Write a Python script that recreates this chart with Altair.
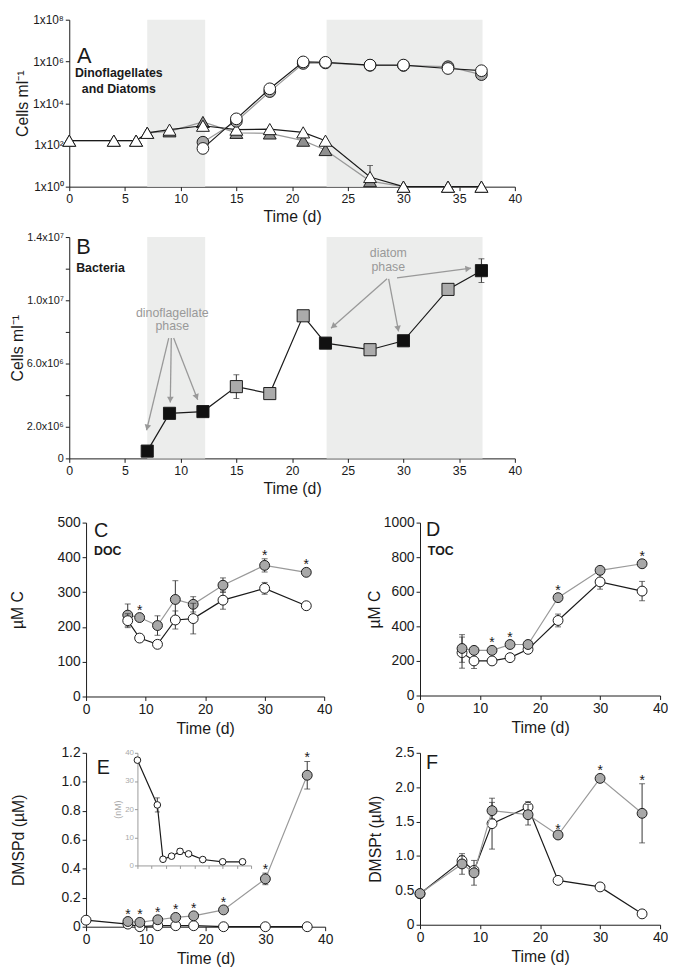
import math
import altair as alt
import pandas as pd

FONT = "Liberation Sans"
NARROW = "Liberation Sans Narrow, Liberation Sans"
INK = "#1a1a1a"
GFILL = "#a8a8a8"
GLINE = "#999999"
SHADE = "#ecedec"
ERRC = "#333333"

# ---------------- data ----------------
shade_start = [7.0, 23.1]
shade_end = [12.2, 37.1]

# Panel A (cells ml-1, log)
a_tri_days = [0, 4, 6, 7, 9, 12, 15, 18, 21, 23, 27, 30, 34, 37]
a_tri_white = [160, 160, 160, 380, 540, 830, 540, 575, 400, 160, 2.9, 1, 1, 1]
a_tri_gray = [160, 160, 160, 380, 450, 1260, 380, 355, 160, 57, 1.85, 1, 1, 1]
a_circ_days = [12, 15, 18, 21, 23, 27, 30, 34, 37]
a_circ_white = [68, 1780, 49000, 950000, 910000, 670000, 670000, 460000, 360000]
a_circ_gray = [135, 1350, 36000, 800000, 850000, 650000, 640000, 560000, 234000]
a_err_day = [27]
a_err_lo = [2.9]
a_err_hi = [10.3]
a_ytick_vals = [1, 100, 10000, 1000000, 100000000]
a_ytick_text = ["1x10⁰", "1x10²", "1x10⁴", "1x10⁶", "1x10⁸"]
x_ticks_ab = [0, 5, 10, 15, 20, 25, 30, 35, 40]

# Panel B (bacteria)
b_days = [7, 9, 12, 15, 18, 21, 23, 27, 30, 34, 37]
b_vals = [0.46e6, 2.85e6, 2.96e6, 4.54e6, 4.1e6, 9.02e6, 7.29e6, 6.875e6, 7.44e6, 10.69e6, 11.875e6]
b_err = [0, 0, 0, 0.75e6, 0, 0, 0, 0.2e6, 0, 0, 0.75e6]
b_kind = ["k", "k", "k", "g", "g", "g", "k", "g", "k", "g", "k"]
b_ytick_vals = [0, 2e6, 4e6, 6e6, 8e6, 1e7, 1.2e7, 1.4e7]
b_ytick_text = ["0", "2.0x10⁶", "", "6.0x10⁶", "", "1.0x10⁷", "", "1.4x10⁷"]
b_arrow_x1 = [8.93, 9.16, 9.37, 28.53, 28.67, 29.42]
b_arrow_y1 = [7.61e6, 7.61e6, 7.61e6, 11.36e6, 11.36e6, 11.42e6]
b_arrow_x2 = [6.94, 9.07, 11.53, 23.5, 29.56, 36.07]
b_arrow_y2 = [1.78e6, 3.54e6, 3.71e6, 8.23e6, 8.03e6, 12.03e6]
b_note_text = ["dinoflagellate", "phase", "diatom", "phase"]
b_note_x = [9.25, 9.25, 28.64, 28.64]
b_note_y = [9.17e6, 8.34e6, 13.02e6, 12.09e6]

# Panel C (DOC)
c_days = [7, 9, 12, 15, 18, 23, 30, 37]
c_gray = [234, 227, 204, 279, 265, 320, 377, 357]
c_gray_err = [32, 0, 28, 54, 22, 21, 19, 0]
c_white = [218, 168, 150, 220, 224, 277, 311, 261]
c_white_err = [20, 0, 0, 26, 44, 26, 17, 0]
c_stars = [9, 30, 37]
c_yticks = [0, 100, 200, 300, 400, 500]

# Panel D (TOC)
d_days = [7, 9, 12, 15, 18, 23, 30, 37]
d_gray = [272, 261, 261, 295, 295, 566, 724, 762]
d_gray_err = [80, 0, 0, 0, 0, 0, 0, 0]
d_white = [248, 200, 200, 219, 267, 434, 657, 604]
d_white_err = [90, 44, 0, 0, 0, 37, 42, 56]
d_stars = [12, 15, 23, 37]
d_yticks = [0, 200, 400, 600, 800, 1000]

# Panel E (DMSPd)
e_gray_days = [7, 9, 12, 15, 18, 23, 30, 37]
e_gray = [0.036, 0.03, 0.048, 0.064, 0.075, 0.116, 0.33, 1.045]
e_gray_err = [0, 0, 0, 0, 0, 0, 0.04, 0.095]
e_white_days = [0, 7, 9, 12, 15, 18, 23, 30, 37]
e_white = [0.045, 0.018, 0.0, 0.007, 0.007, 0.007, 0.0, 0.0, 0.0]
e_white_err = [0, 0, 0, 0, 0, 0, 0, 0, 0]
e_stars = [7, 9, 12, 15, 18, 23, 30, 37]
e_yticks = [0, 0.2, 0.4, 0.6, 0.8, 1.0, 1.2]
# inset (nM)
e_in_days = [0, 7, 9, 12, 15, 18, 23, 30, 37]
e_in_vals = [37.4, 21.5, 2.2, 3.3, 5.0, 4.1, 2.1, 1.3, 1.3]
e_in_err = [0, 2.5, 0, 0, 1.0, 0, 0, 0, 0]
e_in_yticks = [0, 10, 20, 30, 40]

# Panel F (DMSPt)
f_days = [0, 7, 9, 12, 18, 23, 30, 37]
f_gray = [0.454, 0.884, 0.755, 1.659, 1.60, 1.305, 2.128, 1.62]
f_gray_err = [0, 0.15, 0.18, 0.12, 0.15, 0.03, 0, 0.43]
f_white = [0.45, 0.932, 0.79, 1.47, 1.71, 0.645, 0.55, 0.158]
f_white_err = [0, 0.07, 0, 0.37, 0.08, 0, 0, 0]
f_stars = [23, 30, 37]
f_yticks = [0, 0.5, 1.0, 1.5, 2.0, 2.5]

x_ticks_cf = [0, 10, 20, 30, 40]


def label_expr(vals, texts):
    expr = "''"
    for v, t in reversed(list(zip(vals, texts))):
        expr = f"datum.value == {v} ? '{t}' : ({expr})"
    return expr


def frame(days, vals, err=None):
    d = pd.DataFrame({"day": days, "v": vals})
    e = err if err is not None else [0] * len(days)
    d["lo"] = [v - x for v, x in zip(vals, e)]
    d["hi"] = [v + x for v, x in zip(vals, e)]
    return d


def line_layer(df, X, Y, color, width=1.2):
    return alt.Chart(df).mark_line(color=color, strokeWidth=width).encode(x=X("day"), y=Y("v"))


def point_layer(df, X, Y, shape, fill, size, stroke=INK, sw=1.0):
    return alt.Chart(df).mark_point(shape=shape, filled=True, fill=fill, stroke=stroke,
                                    strokeWidth=sw, size=size, opacity=1).encode(x=X("day"), y=Y("v"))


def err_layers(df, X, Y, cap=6, color=ERRC):
    d = df[df["hi"] > df["lo"]]
    if len(d) == 0:
        return []
    rule = alt.Chart(d).mark_rule(color=color, strokeWidth=1).encode(x=X("day"), y=Y("lo"), y2=alt.Y2("hi"))
    c1 = alt.Chart(d).mark_tick(orient="horizontal", color=color, size=cap, thickness=1).encode(x=X("day"), y=Y("lo"))
    c2 = alt.Chart(d).mark_tick(orient="horizontal", color=color, size=cap, thickness=1).encode(x=X("day"), y=Y("hi"))
    return [rule, c1, c2]


def text_layer(df, X, Y, size, weight="normal", align="left", baseline="alphabetic", color=INK, font=FONT, dy=0):
    return alt.Chart(df).mark_text(fontSize=size, fontWeight=weight, align=align, baseline=baseline,
                                   color=color, fill=color, font=font, dy=dy).encode(
        x=X("day"), y=Y("v"), text="t:N")


def star_layers(days, vals, errs, star_days, X, Y):
    rows = [(d, v + e, e) for d, v, e in zip(days, vals, errs) if d in star_days]
    s1 = pd.DataFrame([{"day": d, "v": v, "t": "*"} for d, v, e in rows if e > 0])
    s0 = pd.DataFrame([{"day": d, "v": v, "t": "*"} for d, v, e in rows if e <= 0])
    out = []
    if len(s1):
        out.append(text_layer(s1, X, Y, 14, align="center", dy=1))
    if len(s0):
        out.append(text_layer(s0, X, Y, 14, align="center", dy=-3))
    return out


# ---------------- Panel A ----------------
W_AB = 451
H_A = 169
H_B = 224

xs_ab = alt.Scale(domain=[0, 40], nice=False)
xax_ab = alt.Axis(values=x_ticks_ab, title="Time (d)", titlePadding=4, labelFontSize=12.5)
XA = lambda f: alt.X(f, type="quantitative", scale=xs_ab, axis=xax_ab)
ys_a = alt.Scale(type="log", domain=[1, 1e8], nice=False)
yax_a = alt.Axis(values=a_ytick_vals, labelExpr=label_expr(a_ytick_vals, a_ytick_text),
                 title="Cells ml⁻¹", titlePadding=2, labelFontSize=12)
YA = lambda f: alt.Y(f, type="quantitative", scale=ys_a, axis=yax_a)

shade_df = pd.DataFrame({"day": shade_start, "day2": shade_end})


def shade_layer(X, H):
    return alt.Chart(shade_df).mark_rect(color=SHADE).encode(
        x=X("day"), x2=alt.X2("day2"), y=alt.value(0), y2=alt.value(H))


a_layers = [shade_layer(XA, H_A)]
tg = frame(a_tri_days, a_tri_gray)
tw = frame(a_tri_days, a_tri_white)
cg = frame(a_circ_days, a_circ_gray)
cw = frame(a_circ_days, a_circ_white)
a_err = pd.DataFrame({"day": a_err_day, "lo": a_err_lo, "hi": a_err_hi})
a_layers += err_layers(a_err, XA, YA)
a_layers += [line_layer(tg, XA, YA, GLINE), point_layer(tg, XA, YA, "triangle-up", "#8f8f8f", 170)]
a_layers += [line_layer(tw, XA, YA, INK), point_layer(tw, XA, YA, "triangle-up", "white", 170)]
a_layers += [line_layer(cg, XA, YA, GLINE), point_layer(cg, XA, YA, "circle", GFILL, 140)]
a_layers += [line_layer(cw, XA, YA, INK), point_layer(cw, XA, YA, "circle", "white", 140)]
a_layers.append(text_layer(pd.DataFrame({"day": [0.7], "v": [10 ** 5.93], "t": ["A"]}), XA, YA, 22))
a_layers.append(text_layer(pd.DataFrame({"day": [4.45, 4.45], "v": [10 ** 5.26, 10 ** 4.47],
                                         "t": ["Dinoflagellates", "and Diatoms"]}),
                           XA, YA, 12.5, weight="bold", align="center"))
panel_a = alt.layer(*a_layers).properties(width=W_AB, height=H_A)

# ---------------- Panel B ----------------
ys_b = alt.Scale(domain=[0, 1.4e7], nice=False)
yax_b = alt.Axis(values=b_ytick_vals, labelExpr=label_expr(b_ytick_vals, b_ytick_text),
                 title="Cells ml⁻¹", titlePadding=1, labelFont=NARROW, labelFontSize=11)
YB = lambda f: alt.Y(f, type="quantitative", scale=ys_b, axis=yax_b)
bdf = frame(b_days, b_vals, b_err)
bdf["kind"] = b_kind
b_layers = [shade_layer(XA, H_B)]
b_layers += err_layers(bdf, XA, YB)
b_layers.append(line_layer(bdf, XA, YB, INK))
b_layers.append(alt.Chart(bdf).mark_point(shape="square", filled=True, stroke=INK, strokeWidth=1,
                                          size=150, opacity=1).encode(
    x=XA("day"), y=YB("v"),
    fill=alt.Fill("kind:N", scale=alt.Scale(domain=["k", "g"], range=["#111111", "#ababab"]), legend=None)))

# arrows
arr = pd.DataFrame({"day": b_arrow_x1, "v": b_arrow_y1, "x2": b_arrow_x2, "y2": b_arrow_y2})
px_per_day = W_AB / 40.0
px_per_val = H_B / 1.4e7
head_h = math.sqrt(45) / 2 * math.sqrt(3) / 2
hx, hy, ang = [], [], []
for x1, y1, x2, y2 in zip(b_arrow_x1, b_arrow_y1, b_arrow_x2, b_arrow_y2):
    dxp = (x2 - x1) * px_per_day
    dyp = -(y2 - y1) * px_per_val
    L = math.hypot(dxp, dyp)
    ux, uy = dxp / L, dyp / L
    a = math.degrees(math.atan2(dxp, -dyp)) % 360
    ang.append(a)
    hx.append(x2 - ux * head_h / px_per_day)
    hy.append(y2 + uy * head_h / px_per_val)
heads = pd.DataFrame({"day": hx, "v": hy, "ang": ang})
b_layers.append(alt.Chart(arr).mark_rule(color=GLINE, strokeWidth=1.3).encode(
    x=XA("day"), y=YB("v"), x2=alt.X2("x2"), y2=alt.Y2("y2")))
b_layers.append(alt.Chart(heads).mark_point(shape="triangle-up", filled=True, color=GLINE, size=45,
                                            opacity=1).encode(
    x=XA("day"), y=YB("v"), angle=alt.Angle("ang:Q", scale=None)))
b_layers.append(text_layer(pd.DataFrame({"day": b_note_x, "v": b_note_y, "t": b_note_text}), XA, YB, 12.5,
                           align="center", baseline="middle", color="#999999", font=NARROW))
b_layers.append(text_layer(pd.DataFrame({"day": [0.62], "v": [12.92e6], "t": ["B"]}), XA, YB, 22))
b_layers.append(text_layer(pd.DataFrame({"day": [0.62], "v": [11.77e6], "t": ["Bacteria"]}), XA, YB, 12.5,
                           weight="bold"))
panel_b = alt.layer(*b_layers).properties(width=W_AB, height=H_B)


# ---------------- Linear panels C-F ----------------
def lin_panel(gdays, g, ge, wdays, w, we, stars, ymax, yticks, ylab, ytitle, ytpad,
              letter, lxy, sub, sxy, width, height, gray_top, msize=100, extra=None):
    xs = alt.Scale(domain=[0, 40], nice=False)
    xax = alt.Axis(values=x_ticks_cf, title="Time (d)", titlePadding=4)
    X = lambda f: alt.X(f, type="quantitative", scale=xs, axis=xax)
    ys = alt.Scale(domain=[0, ymax], nice=False)
    yax = alt.Axis(values=yticks, labelExpr=ylab, title=ytitle, titlePadding=ytpad)
    Y = lambda f: alt.Y(f, type="quantitative", scale=ys, axis=yax)
    gdf = frame(gdays, g, ge)
    wdf = frame(wdays, w, we)
    gl = err_layers(gdf, X, Y) + [line_layer(gdf, X, Y, GLINE), point_layer(gdf, X, Y, "circle", GFILL, msize)]
    wl = err_layers(wdf, X, Y) + [line_layer(wdf, X, Y, INK), point_layer(wdf, X, Y, "circle", "white", msize)]
    layers = (wl + gl) if gray_top else (gl + wl)
    layers += star_layers(gdays, g, ge, stars, X, Y)
    layers.append(text_layer(pd.DataFrame({"day": [lxy[0]], "v": [lxy[1]], "t": [letter]}), X, Y, 20))
    if sub:
        layers.append(text_layer(pd.DataFrame({"day": [sxy[0]], "v": [sxy[1]], "t": [sub]}), X, Y, 12.5,
                                 weight="bold"))
    main = alt.layer(*layers)
    if extra is not None:
        return alt.layer(main, extra).resolve_scale(x="independent", y="independent").properties(
            width=width, height=height)
    return main.properties(width=width, height=height)


int_lab = "format(datum.value, 'd')"
one_dec = "datum.value == 0 ? '0' : format(datum.value, '.1f')"

panel_c = lin_panel(c_days, c_gray, c_gray_err, c_days, c_white, c_white_err, c_stars, 500, c_yticks,
                    int_lab, "µM C", 32, "C", (1.33, 459), "DOC", (1.33, 407), 241, 176, False)
panel_d = lin_panel(d_days, d_gray, d_gray_err, d_days, d_white, d_white_err, d_stars, 1000, d_yticks,
                    int_lab, "µM C", 1, "D", (0.99, 923), "TOC", (1.3, 813), 243, 175, True)

# inset for E
IW0, IW1, IH = 52, 167, 114
xs_i = alt.Scale(domain=[0, 40], nice=False, range=[IW0, IW1])
xax_i = alt.Axis(orient="bottom", offset=-(176 - IH), values=[0, 5, 10, 15, 20, 25, 30, 35, 40],
                 labels=False, title="", tickSize=3, domainColor="#999999", tickColor="#999999")
XI = lambda f: alt.X(f, type="quantitative", scale=xs_i, axis=xax_i)
ys_i = alt.Scale(domain=[0, 40], nice=False, range=[IH, 0])
yax_i = alt.Axis(orient="left", offset=-IW0, values=e_in_yticks, title="(nM)", titleColor="#aaaaaa",
                 labelColor="#aaaaaa", labelFontSize=8, titleFontSize=9, tickSize=3, titlePadding=2,
                 labelPadding=1, domainColor="#999999", tickColor="#999999")
YI = lambda f: alt.Y(f, type="quantitative", scale=ys_i, axis=yax_i)
idf = frame(e_in_days, e_in_vals, e_in_err)
inset = alt.layer(*(err_layers(idf, XI, YI, cap=5) +
                    [line_layer(idf, XI, YI, INK), point_layer(idf, XI, YI, "circle", "white", 45)]))

panel_e = lin_panel(e_gray_days, e_gray, e_gray_err, e_white_days, e_white, e_white_err, e_stars, 1.2,
                    e_yticks, one_dec, "DMSPd (µM)", 35, "E", (1.77, 1.052), None, None, 242, 176, True,
                    extra=inset)
panel_f = lin_panel(f_days, f_gray, f_gray_err, f_days, f_white, f_white_err, f_stars, 2.5, f_yticks,
                    one_dec, "DMSPt (µM)", 12, "F", (0.99, 2.27), None, None, 243, 174, True)


def spacer():
    return alt.Chart(pd.DataFrame({"s": [0]})).mark_point(size=1, opacity=0).properties(width=1, height=1)


top = alt.hconcat(spacer(), alt.vconcat(panel_a, panel_b, spacing=6), spacing=0)
mid = alt.hconcat(panel_c, panel_d, spacing=34)
bot = alt.hconcat(panel_e, panel_f, spacing=34)
lower = alt.hconcat(spacer(), alt.vconcat(mid, bot, spacing=10), spacing=0)
chart = alt.vconcat(top, lower, spacing=19, padding=0).configure_view(
    stroke=None).configure_axis(
    domainColor=INK, tickColor=INK, labelColor=INK, titleColor=INK, labelFont=FONT, titleFont=FONT,
    labelFontSize=14, titleFontSize=16, titleFontWeight="normal", tickSize=4, grid=False,
    labelPadding=2, labelFlush=False, domainWidth=1, tickWidth=1
)

chart.save("out.html", embed_options={"renderer": "svg", "actions": False})
